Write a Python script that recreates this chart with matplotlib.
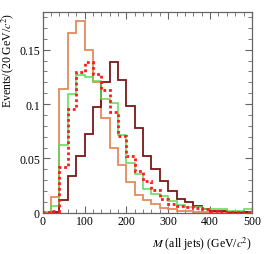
import numpy as np
import matplotlib
matplotlib.use("Agg")
import matplotlib.pyplot as plt
from matplotlib.ticker import MultipleLocator

# bin edges in GeV/c^2 (20 GeV bins)
bin_edges = list(range(0, 520, 20))

orange_vals = [0.000, 0.014, 0.114, 0.165, 0.176, 0.150, 0.120, 0.087, 0.060, 0.044,
               0.028, 0.016, 0.012, 0.008, 0.0045, 0.0035, 0.002, 0.0015, 0.001, 0.001,
               0.0005, 0.0005, 0.0003, 0.0003, 0.0002]
maroon_vals = [0.000, 0.001, 0.012, 0.0335, 0.0525, 0.072, 0.097, 0.120, 0.139, 0.122,
               0.098, 0.078, 0.0525, 0.040, 0.029, 0.020, 0.013, 0.0095, 0.0065, 0.0035,
               0.002, 0.0015, 0.001, 0.0005, 0.0005]
green_vals = [0.001, 0.006, 0.0626, 0.109, 0.127, 0.125, 0.1215, 0.1047, 0.1007, 0.0718,
              0.0455, 0.036, 0.0222, 0.017, 0.0157, 0.0112, 0.0068, 0.0052, 0.005, 0.0037,
              0.0037, 0.0035, 0.0015, 0.0015, 0.003]
red_vals = [0.001, 0.002, 0.0424, 0.095, 0.1298, 0.139, 0.128, 0.113, 0.0928, 0.071,
            0.0525, 0.0387, 0.0295, 0.021, 0.013, 0.008, 0.006, 0.005, 0.004, 0.003,
            0.002, 0.001, 0.0008, 0.0008, 0.0008]

plt.rcParams['mathtext.fontset'] = 'stix'
plt.rcParams['font.family'] = ['Liberation Serif', 'DejaVu Serif']

fig = plt.figure(figsize=(2.66, 2.55), dpi=100)
ax = fig.add_axes([0.1605, 0.162, 0.947 - 0.1605, 0.948 - 0.162])

ax.stairs(orange_vals, bin_edges, color='#e48a5e', lw=1.3, zorder=2)
ax.stairs(maroon_vals, bin_edges, color='#7a1818', lw=1.3, zorder=3)
ax.stairs(green_vals, bin_edges, color='#5fd855', lw=1.1, zorder=4)
ax.stairs(red_vals, bin_edges, color='#ff1a1a', lw=2.0, linestyle=(0, (1.0, 1.0)), zorder=5)

ax.set_xlim(0, 500)
ax.set_ylim(0, 0.1845)

ax.xaxis.set_major_locator(MultipleLocator(100))
ax.xaxis.set_minor_locator(MultipleLocator(20))
ax.yaxis.set_major_locator(MultipleLocator(0.05))
ax.yaxis.set_minor_locator(MultipleLocator(0.01))
ax.set_yticks([0, 0.05, 0.1, 0.15])
ax.set_yticklabels(['0', '0.05', '0.1', '0.15'])

ax.tick_params(which='both', direction='in', top=True, right=True, color='#666666',
               labelsize=8.5, pad=2)
ax.tick_params(which='major', length=5, width=0.8)
ax.tick_params(which='minor', length=2.8, width=0.6)
for s in ax.spines.values():
    s.set_color('#666666')
    s.set_linewidth(0.9)

ax.set_xlabel(r'$M$ (all jets) (GeV/$c^2$)', fontsize=8.5, loc='right', labelpad=5)
ax.set_ylabel(r'Events/(20 GeV/$c^2$)', fontsize=8.5, loc='top')
ax.yaxis.set_label_coords(-0.128, 1.0)

fig.savefig('out.png', dpi=100)
